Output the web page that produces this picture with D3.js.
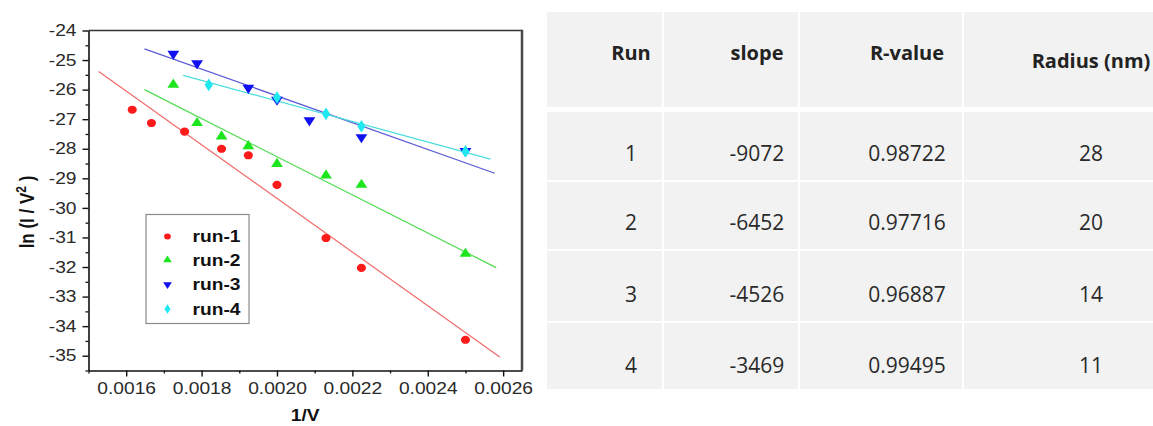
<!DOCTYPE html>
<html>
<head>
<meta charset="utf-8">
<script src="https://cdn.jsdelivr.net/npm/d3@7"></script>
<style>
  html, body { margin: 0; padding: 0; background: #fff; }
  svg { display: block; }
</style>
</head>
<body>
<script>
// ---------------- DATA ----------------
const runNames = ["run-1", "run-2", "run-3", "run-4"];
const runColors = ["#ff1a1a", "#1ee61e", "#1010f0", "#1ee8f0"];
const lineColors = ["#f26a6a", "#4fdc4f", "#5a5ad8", "#48dede"];

const run1X = [0.001616, 0.001667, 0.001755, 0.001853, 0.001924, 0.002, 0.00213, 0.002224, 0.0025];
const run1Y = [-26.68, -27.13, -27.42, -28.0, -28.22, -29.22, -31.02, -32.03, -34.46];
const run2X = [0.001725, 0.001788, 0.001853, 0.001924, 0.002, 0.00213, 0.002224, 0.0025];
const run2Y = [-25.83, -27.13, -27.58, -27.91, -28.51, -28.9, -29.22, -31.55];
const run3X = [0.001725, 0.001788, 0.001924, 0.002, 0.002086, 0.002224, 0.0025];
const run3Y = [-24.79, -25.11, -25.94, -26.34, -27.04, -27.61, -28.08];
const run4X = [0.001819, 0.002, 0.00213, 0.002224, 0.0025];
const run4Y = [-25.84, -26.27, -26.82, -27.24, -28.09];

// linear fit lines (end points)
const fitStartX = [0.001527, 0.0016485, 0.0016485, 0.0017512];
const fitStartY = [-25.39, -26.0, -24.62, -25.52];
const fitEndX = [0.002591, 0.0025814, 0.0025777, 0.0025663];
const fitEndY = [-35.04, -32.02, -28.83, -28.35];

const xTicks = [0.0016, 0.0018, 0.0020, 0.0022, 0.0024, 0.0026];
const xMinorTicks = [0.0015, 0.0017, 0.0019, 0.0021, 0.0023, 0.0025];
const yTicks = [-35, -34, -33, -32, -31, -30, -29, -28, -27, -26, -25, -24];
const yMinorTicks = [-35.5, -34.5, -33.5, -32.5, -31.5, -30.5, -29.5, -28.5, -27.5, -26.5, -25.5, -24.5];

// table
const tableHeaders = ["Run", "slope", "R-value", "Radius (nm)"];
const tableRuns = ["1", "2", "3", "4"];
const tableSlopes = ["-9072", "-6452", "-4526", "-3469"];
const tableRValues = ["0.98722", "0.97716", "0.96887", "0.99495"];
const tableRadii = ["28", "20", "14", "11"];

// ---------------- CHART ----------------
const W = 1153, H = 426;
const svg = d3.select("body").append("svg").attr("width", W).attr("height", H);

const x = d3.scaleLinear().domain([0.0015, 0.00265]).range([88.5, 522]);
const y = d3.scaleLinear().domain([-35.5, -24]).range([370.5, 30.5]);
const SX = 1.2; // horizontal stretch of the original picture
const chartFont = "'Liberation Sans', Arial, sans-serif";

// frame (top & right)
svg.append("line")
  .attr("x1", x(0.0015)).attr("x2", x(0.00265))
  .attr("y1", y(-24)).attr("y2", y(-24))
  .attr("stroke", "#333").attr("stroke-width", 1.5);
svg.append("line")
  .attr("x1", x(0.00265)).attr("x2", x(0.00265))
  .attr("y1", y(-24) - 0.75).attr("y2", y(-35.5))
  .attr("stroke", "#4a4a4a").attr("stroke-width", 2.5);

// minor ticks
svg.append("g").attr("transform", `translate(0,${y(-35.5)})`)
  .call(d3.axisBottom(x).tickValues(xMinorTicks).tickSize(3).tickFormat(""))
  .call(g => g.select(".domain").remove())
  .call(g => g.selectAll("line").attr("stroke", "#111").attr("stroke-width", 1.3));
svg.append("g").attr("transform", `translate(${x(0.0015)},0)`)
  .call(d3.axisLeft(y).tickValues(yMinorTicks).tickSize(3).tickFormat(""))
  .call(g => g.select(".domain").remove())
  .call(g => g.selectAll("line").attr("stroke", "#111").attr("stroke-width", 1.3));

// major axes
const xAxisG = svg.append("g").attr("transform", `translate(0,${y(-35.5)})`)
  .call(d3.axisBottom(x).tickValues(xTicks).tickFormat(d3.format(".4f"))
    .tickSize(6).tickSizeOuter(0).tickPadding(6));
xAxisG.select(".domain").attr("stroke", "#111").attr("stroke-width", 1.6);
xAxisG.selectAll(".tick line").attr("stroke", "#111").attr("stroke-width", 1.4);
xAxisG.selectAll(".tick text")
  .attr("font-family", chartFont).attr("font-size", 16).attr("fill", "#2a2a2a")
  .attr("transform", `scale(${SX},1)`);

const yAxisG = svg.append("g").attr("transform", `translate(${x(0.0015)},0)`)
  .call(d3.axisLeft(y).tickValues(yTicks).tickFormat(d => String(d))
    .tickSize(6).tickSizeOuter(0));
yAxisG.select(".domain").attr("stroke", "#111").attr("stroke-width", 1.6);
yAxisG.selectAll(".tick line").attr("stroke", "#111").attr("stroke-width", 1.4);
yAxisG.selectAll(".tick text")
  .attr("font-family", chartFont).attr("font-size", 16).attr("fill", "#2a2a2a")
  .attr("x", -10).attr("transform", `scale(${SX},1)`);

// axis titles
const yTitle = svg.append("text")
  .attr("transform", `translate(34,212) scale(${SX},1) rotate(-90)`)
  .attr("text-anchor", "middle")
  .attr("font-family", chartFont).attr("font-weight", "bold").attr("font-size", 17)
  .attr("fill", "#111");
yTitle.append("tspan").text("ln (I / V");
yTitle.append("tspan").attr("baseline-shift", "super").attr("font-size", 12).text("2");
yTitle.append("tspan").text(" )");

svg.append("text")
  .attr("transform", `translate(${(x(0.0015) + x(0.00265)) / 2},421) scale(${SX},1)`)
  .attr("text-anchor", "middle")
  .attr("font-family", chartFont).attr("font-weight", "bold").attr("font-size", 16)
  .attr("fill", "#111").text("1/V");

// fit lines
runNames.forEach((name, i) => {
  svg.append("line")
    .attr("x1", x(fitStartX[i])).attr("y1", y(fitStartY[i]))
    .attr("x2", x(fitEndX[i])).attr("y2", y(fitEndY[i]))
    .attr("stroke", lineColors[i]).attr("stroke-width", 1.2);
});

// symbols
const symbolDefs = [
  { type: d3.symbolCircle, size: 52, rot: 0 },
  { type: d3.symbolTriangle, size: 48, rot: 0 },
  { type: d3.symbolTriangle, size: 48, rot: 180 },
  { type: d3.symbolDiamond, size: 46, rot: 0 }
];
const runsX = [run1X, run2X, run3X, run4X];
const runsY = [run1Y, run2Y, run3Y, run4Y];

runNames.forEach((name, i) => {
  const pts = runsX[i].map((vx, j) => ({ vx, vy: runsY[i][j] }));
  const sd = symbolDefs[i];
  svg.append("g").selectAll("path").data(pts).join("path")
    .attr("d", d3.symbol().type(sd.type).size(sd.size))
    .attr("transform", d => `translate(${x(d.vx)},${y(d.vy)}) scale(1.12,1) rotate(${sd.rot})`)
    .attr("fill", runColors[i]);
});

// legend
const legendRows = [236.5, 260, 284.5, 309];
svg.append("rect")
  .attr("x", 146).attr("y", 214.5).attr("width", 103).attr("height", 109)
  .attr("fill", "#fff").attr("stroke", "#8a8a8a").attr("stroke-width", 1.2);
runNames.forEach((name, i) => {
  const sd = symbolDefs[i];
  svg.append("path")
    .attr("d", d3.symbol().type(sd.type).size(sd.size * 0.55))
    .attr("transform", `translate(167.5,${legendRows[i]}) scale(1.12,1) rotate(${sd.rot})`)
    .attr("fill", runColors[i]);
  svg.append("text")
    .attr("transform", `translate(192.5,${legendRows[i]}) scale(${SX},1)`)
    .attr("dy", "0.36em")
    .attr("font-family", chartFont).attr("font-weight", "bold").attr("font-size", 16)
    .attr("fill", "#111").text(name);
});

// ---------------- TABLE ----------------
const tableFont = "'Open Sans', 'Noto Sans', sans-serif";
const colEdges = [547, 663, 799, 963, 1153];
const rowEdges = [[12, 107], [112, 180], [182, 249], [251, 321], [323, 389]];
const colCenters = [631, 757, 907, 1091];
const headerY = [53, 53, 53, 61];
const rowCenters = [153.5, 222, 294, 365];

const tg = svg.append("g");
rowEdges.forEach(r => {
  colEdges.slice(0, -1).forEach((c, ci) => {
    const c2 = colEdges[ci + 1];
    tg.append("rect")
      .attr("x", c + (ci === 0 ? 0 : 1)).attr("y", r[0])
      .attr("width", c2 - c - (ci === 0 ? 1 : 2) + (ci === 3 ? 1 : 0))
      .attr("height", r[1] - r[0])
      .attr("fill", "#f2f2f2");
  });
});

tableHeaders.forEach((h, ci) => {
  tg.append("text")
    .attr("x", colCenters[ci]).attr("y", headerY[ci]).attr("dy", "0.36em")
    .attr("text-anchor", "middle")
    .attr("font-family", tableFont).attr("font-weight", "bold").attr("font-size", 20)
    .attr("fill", "#222").text(h);
});

const tableCols = [tableRuns, tableSlopes, tableRValues, tableRadii];
tableCols.forEach((col, ci) => {
  col.forEach((v, ri) => {
    tg.append("text")
      .attr("x", colCenters[ci]).attr("y", rowCenters[ri]).attr("dy", "0.36em")
      .attr("text-anchor", "middle")
      .attr("font-family", tableFont).attr("font-size", 21)
      .attr("fill", "#2a2a2a").text(v);
  });
});
</script>
</body>
</html>
